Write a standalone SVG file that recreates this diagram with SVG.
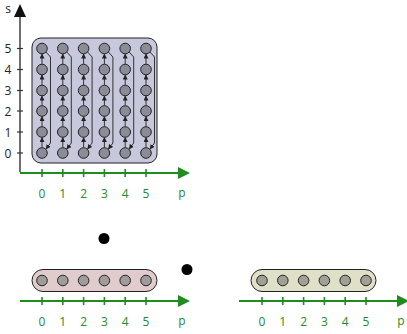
<svg xmlns="http://www.w3.org/2000/svg" width="407" height="334" viewBox="0 0 407 334">
<style>
text{font-family:"Open Sans","DejaVu Sans",sans-serif;font-size:12px}
.g{fill:#1e8c1e}
.k{fill:#222}
.ax{stroke:#1e8c1e;stroke-width:2;fill:none}
.tk{stroke:#1e8c1e;stroke-width:1.6}
.yk{stroke:#333;stroke-width:1.2}
.nb{fill:#8c8c98;stroke:#222;stroke-width:1}
.np{fill:#a09c9c;stroke:#222;stroke-width:1}
.ng{fill:#a0a094;stroke:#222;stroke-width:1}
.up{stroke:#222;stroke-width:0.9;fill:none;marker-end:url(#ah)}
.ret{stroke:#222;stroke-width:0.9;fill:none;marker-end:url(#ah)}
</style>
<defs>
<marker id="ah" viewBox="0 0 10 10" refX="9" refY="5" markerWidth="5" markerHeight="5" orient="auto" markerUnits="userSpaceOnUse"><path d="M0,0 L10,5 L0,10 z" fill="#222"/></marker>
</defs>

<g id="axes-top">
<line x1="20" y1="172" x2="20" y2="14" stroke="#333" stroke-width="1.4"/>
<path d="M20,4 L26,17 L14,17 z" fill="#111"/>
<text x="8" y="13" class="k" text-anchor="middle">s</text>
<g class="yk">
<line x1="17" y1="48.5" x2="23" y2="48.5"/><line x1="17" y1="69.5" x2="23" y2="69.5"/><line x1="17" y1="90.5" x2="23" y2="90.5"/><line x1="17" y1="111" x2="23" y2="111"/><line x1="17" y1="132" x2="23" y2="132"/><line x1="17" y1="153" x2="23" y2="153"/>
</g>
<g class="k" text-anchor="middle">
<text x="8" y="53">5</text><text x="8" y="74">4</text><text x="8" y="95">3</text><text x="8" y="115.5">2</text><text x="8" y="136.5">1</text><text x="8" y="157.5">0</text>
</g>
<line x1="20" y1="173" x2="179" y2="173" class="ax"/>
<path d="M190,173 L178,167 L178,179 z" fill="#1e8c1e"/>
<g class="tk">
<line x1="42" y1="169" x2="42" y2="177"/><line x1="62.8" y1="169" x2="62.8" y2="177"/><line x1="83.6" y1="169" x2="83.6" y2="177"/><line x1="104.4" y1="169" x2="104.4" y2="177"/><line x1="125.2" y1="169" x2="125.2" y2="177"/><line x1="146" y1="169" x2="146" y2="177"/>
</g>
<g class="g" text-anchor="middle">
<text x="42" y="198">0</text><text x="62.8" y="198">1</text><text x="83.6" y="198">2</text><text x="104.4" y="198">3</text><text x="125.2" y="198">4</text><text x="146" y="198">5</text><text x="182" y="197">p</text>
</g>
</g>

<g id="grid-box">
<rect x="32" y="38" width="125" height="125" rx="9" fill="#c8c8dc" stroke="#222" stroke-width="1"/>
</g>

<g id="connectors">
<g id="col0-arrows">
<line class="up" x1="42" y1="147.5" x2="42" y2="137.5"/><line class="up" x1="42" y1="126.5" x2="42" y2="116.5"/><line class="up" x1="42" y1="105.5" x2="42" y2="96"/><line class="up" x1="42" y1="85" x2="42" y2="75"/><line class="up" x1="42" y1="64" x2="42" y2="54"/>
<path class="ret" d="M45.5,51.5 L50.5,57 L50.5,143 L46,149"/>
</g>
<g id="col1-arrows">
<line class="up" x1="62.8" y1="147.5" x2="62.8" y2="137.5"/><line class="up" x1="62.8" y1="126.5" x2="62.8" y2="116.5"/><line class="up" x1="62.8" y1="105.5" x2="62.8" y2="96"/><line class="up" x1="62.8" y1="85" x2="62.8" y2="75"/><line class="up" x1="62.8" y1="64" x2="62.8" y2="54"/>
<path class="ret" d="M66.3,51.5 L71.3,57 L71.3,143 L66.8,149"/>
</g>
<g id="col2-arrows">
<line class="up" x1="83.6" y1="147.5" x2="83.6" y2="137.5"/><line class="up" x1="83.6" y1="126.5" x2="83.6" y2="116.5"/><line class="up" x1="83.6" y1="105.5" x2="83.6" y2="96"/><line class="up" x1="83.6" y1="85" x2="83.6" y2="75"/><line class="up" x1="83.6" y1="64" x2="83.6" y2="54"/>
<path class="ret" d="M87.1,51.5 L92.1,57 L92.1,143 L87.6,149"/>
</g>
<g id="col3-arrows">
<line class="up" x1="104.4" y1="147.5" x2="104.4" y2="137.5"/><line class="up" x1="104.4" y1="126.5" x2="104.4" y2="116.5"/><line class="up" x1="104.4" y1="105.5" x2="104.4" y2="96"/><line class="up" x1="104.4" y1="85" x2="104.4" y2="75"/><line class="up" x1="104.4" y1="64" x2="104.4" y2="54"/>
<path class="ret" d="M107.9,51.5 L112.9,57 L112.9,143 L108.4,149"/>
</g>
<g id="col4-arrows">
<line class="up" x1="125.2" y1="147.5" x2="125.2" y2="137.5"/><line class="up" x1="125.2" y1="126.5" x2="125.2" y2="116.5"/><line class="up" x1="125.2" y1="105.5" x2="125.2" y2="96"/><line class="up" x1="125.2" y1="85" x2="125.2" y2="75"/><line class="up" x1="125.2" y1="64" x2="125.2" y2="54"/>
<path class="ret" d="M128.7,51.5 L133.7,57 L133.7,143 L129.2,149"/>
</g>
<g id="col5-arrows">
<line class="up" x1="146" y1="147.5" x2="146" y2="137.5"/><line class="up" x1="146" y1="126.5" x2="146" y2="116.5"/><line class="up" x1="146" y1="105.5" x2="146" y2="96"/><line class="up" x1="146" y1="85" x2="146" y2="75"/><line class="up" x1="146" y1="64" x2="146" y2="54"/>
<path class="ret" d="M149.5,51.5 L154.5,57 L154.5,143 L150,149"/>
</g>
</g>

<g id="grid-nodes" class="nb">
<g id="n-0"><circle cx="42" cy="48.5" r="5.3"/><circle cx="42" cy="69.5" r="5.3"/><circle cx="42" cy="90.5" r="5.3"/><circle cx="42" cy="111" r="5.3"/><circle cx="42" cy="132" r="5.3"/><circle cx="42" cy="153" r="5.3"/></g>
<g id="n-1"><circle cx="62.8" cy="48.5" r="5.3"/><circle cx="62.8" cy="69.5" r="5.3"/><circle cx="62.8" cy="90.5" r="5.3"/><circle cx="62.8" cy="111" r="5.3"/><circle cx="62.8" cy="132" r="5.3"/><circle cx="62.8" cy="153" r="5.3"/></g>
<g id="n-2"><circle cx="83.6" cy="48.5" r="5.3"/><circle cx="83.6" cy="69.5" r="5.3"/><circle cx="83.6" cy="90.5" r="5.3"/><circle cx="83.6" cy="111" r="5.3"/><circle cx="83.6" cy="132" r="5.3"/><circle cx="83.6" cy="153" r="5.3"/></g>
<g id="n-3"><circle cx="104.4" cy="48.5" r="5.3"/><circle cx="104.4" cy="69.5" r="5.3"/><circle cx="104.4" cy="90.5" r="5.3"/><circle cx="104.4" cy="111" r="5.3"/><circle cx="104.4" cy="132" r="5.3"/><circle cx="104.4" cy="153" r="5.3"/></g>
<g id="n-4"><circle cx="125.2" cy="48.5" r="5.3"/><circle cx="125.2" cy="69.5" r="5.3"/><circle cx="125.2" cy="90.5" r="5.3"/><circle cx="125.2" cy="111" r="5.3"/><circle cx="125.2" cy="132" r="5.3"/><circle cx="125.2" cy="153" r="5.3"/></g>
<g id="n-5"><circle cx="146" cy="48.5" r="5.3"/><circle cx="146" cy="69.5" r="5.3"/><circle cx="146" cy="90.5" r="5.3"/><circle cx="146" cy="111" r="5.3"/><circle cx="146" cy="132" r="5.3"/><circle cx="146" cy="153" r="5.3"/></g>
</g>

<g id="dot-a"><circle cx="104" cy="238.5" r="5.5" fill="#000"/></g>
<g id="dot-b"><circle cx="187" cy="269.5" r="5.5" fill="#000"/></g>

<g id="row-pink">
<rect x="32" y="269.5" width="125" height="22" rx="11" fill="#e0cccc" stroke="#222" stroke-width="1"/>
<g class="np"><circle cx="42" cy="280.5" r="5.3"/><circle cx="62.8" cy="280.5" r="5.3"/><circle cx="83.6" cy="280.5" r="5.3"/><circle cx="104.4" cy="280.5" r="5.3"/><circle cx="125.2" cy="280.5" r="5.3"/><circle cx="146" cy="280.5" r="5.3"/></g>
</g>
<g id="axis-pink">
<line x1="20" y1="301" x2="179" y2="301" class="ax"/>
<path d="M190,301 L178,295 L178,307 z" fill="#1e8c1e"/>
<g class="tk">
<line x1="42" y1="297" x2="42" y2="305"/><line x1="62.8" y1="297" x2="62.8" y2="305"/><line x1="83.6" y1="297" x2="83.6" y2="305"/><line x1="104.4" y1="297" x2="104.4" y2="305"/><line x1="125.2" y1="297" x2="125.2" y2="305"/><line x1="146" y1="297" x2="146" y2="305"/>
</g>
<g class="g" text-anchor="middle">
<text x="42" y="326">0</text><text x="62.8" y="326">1</text><text x="83.6" y="326">2</text><text x="104.4" y="326">3</text><text x="125.2" y="326">4</text><text x="146" y="326">5</text><text x="182" y="325">p</text>
</g>
</g>

<g id="row-green">
<rect x="251" y="269.5" width="125" height="22" rx="11" fill="#e0e0c8" stroke="#222" stroke-width="1"/>
<g class="ng"><circle cx="262" cy="280.5" r="5.3"/><circle cx="282.8" cy="280.5" r="5.3"/><circle cx="303.6" cy="280.5" r="5.3"/><circle cx="324.4" cy="280.5" r="5.3"/><circle cx="345.2" cy="280.5" r="5.3"/><circle cx="366" cy="280.5" r="5.3"/></g>
</g>
<g id="axis-green">
<line x1="239" y1="301" x2="398" y2="301" class="ax"/>
<path d="M409,301 L397,295 L397,307 z" fill="#1e8c1e"/>
<g class="tk">
<line x1="262" y1="297" x2="262" y2="305"/><line x1="282.8" y1="297" x2="282.8" y2="305"/><line x1="303.6" y1="297" x2="303.6" y2="305"/><line x1="324.4" y1="297" x2="324.4" y2="305"/><line x1="345.2" y1="297" x2="345.2" y2="305"/><line x1="366" y1="297" x2="366" y2="305"/>
</g>
<g class="g" text-anchor="middle">
<text x="262" y="326">0</text><text x="282.8" y="326">1</text><text x="303.6" y="326">2</text><text x="324.4" y="326">3</text><text x="345.2" y="326">4</text><text x="366" y="326">5</text><text x="401" y="325">p</text>
</g>
</g>
</svg>
